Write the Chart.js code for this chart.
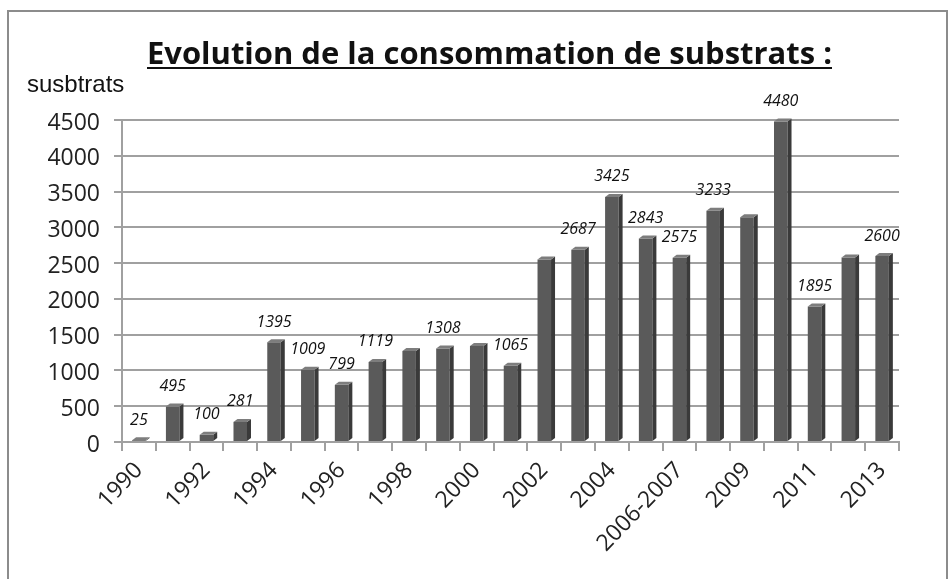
<!DOCTYPE html>
<html>
<head>
<meta charset="utf-8">
<script src="https://cdn.jsdelivr.net/npm/chart.js@4.4.0/dist/chart.umd.min.js"></script>
<style>
  body { margin: 0; background: #fff; }
  #wrap { position: relative; width: 951px; height: 579px; overflow: hidden; }
  #cadre { position: absolute; left: 7px; top: 10px; width: 937px; height: 620px; border: 2px solid #8c8c8c; }
  #titre {
    position: absolute; left: 147px; top: 32px; line-height: 40px; white-space: nowrap;
    font: bold 30px 'Open Sans', sans-serif; color: #111;
    text-decoration: underline; text-decoration-thickness: 2px; text-underline-offset: 3px;
    transform-origin: left center;
  }
  #unite { position: absolute; left: 27px; top: 70px; line-height: 30px; font: 24px 'Liberation Sans', Arial, sans-serif; color: #111; }
  canvas { position: absolute; left: 0; top: 0; }
</style>
</head>
<body>
<div id="wrap">
  <div id="cadre"></div>
  <canvas id="grafikSubstrats" width="951" height="579"></canvas>
  <div id="titre">Evolution de la consommation de substrats :</div>
  <div id="unite">susbtrats</div>
</div>
<script>
// donnees
const annees = ['1990', '1991', '1992', '1993', '1994', '1995', '1996', '1997', '1998', '1999', '2000', '2001',
    '2002', '2003', '2004', '2005', '2006-2007', '2008', '2009', '2010', '2011', '2012', '2013'];
const substrats = [25, 495, 100, 281, 1395, 1009, 799, 1119, 1270, 1308, 1340, 1065,
    2550, 2687, 3425, 2843, 2575, 3233, 3140, 4480, 1895, 2580, 2600];
// barres qui portent une etiquette
const etiquetees = [1, 1, 1, 1, 1, 1, 1, 1, 0, 1, 0, 1, 0, 1, 1, 1, 1, 1, 0, 1, 1, 0, 1];
const yMin = 0, yMax = 4500, yPas = 500;

// titre: meme largeur que l'original
const titre = document.getElementById('titre');
titre.style.transform = 'scaleX(' + (685 / titre.getBoundingClientRect().width) + ')';

Chart.defaults.font.family = "'Open Sans', sans-serif";
Chart.defaults.color = '#222';

// faces laterale et superieure des barres (effet 3D)
const relief = {
    id: 'relief',
    afterDatasetsDraw(chart) {
        const ctx = chart.ctx;
        const d = 4, h = 3;
        chart.getDatasetMeta(0).data.forEach(bar => {
            const g = bar.x - bar.width / 2, dr = bar.x + bar.width / 2;
            ctx.save();
            ctx.fillStyle = '#3a3a3a';
            ctx.beginPath();
            ctx.moveTo(dr, bar.y);
            ctx.lineTo(dr + d, bar.y - h);
            ctx.lineTo(dr + d, bar.base - h);
            ctx.lineTo(dr, bar.base);
            ctx.closePath();
            ctx.fill();
            ctx.fillStyle = '#7d7d7d';
            ctx.beginPath();
            ctx.moveTo(g, bar.y);
            ctx.lineTo(g + d, bar.y - h);
            ctx.lineTo(dr + d, bar.y - h);
            ctx.lineTo(dr, bar.y);
            ctx.closePath();
            ctx.fill();
            ctx.restore();
        });
    }
};

// etiquettes de valeurs
const valeurs = {
    id: 'valeurs',
    afterDatasetsDraw(chart) {
        const ctx = chart.ctx;
        ctx.save();
        ctx.font = "italic 16px 'Open Sans', sans-serif";
        ctx.fillStyle = '#111';
        ctx.textAlign = 'center';
        ctx.textBaseline = 'middle';
        chart.getDatasetMeta(0).data.forEach((bar, i) => {
            if (etiquetees[i]) ctx.fillText(substrats[i], bar.x, bar.y - 20);
        });
        ctx.restore();
    }
};

const ctxSubstrats = document.getElementById('grafikSubstrats').getContext('2d');
const grafikSubstrats = new Chart(ctxSubstrats, {
    type: 'bar',
    data: {
        labels: annees,
        datasets: [{
            label: 'susbtrats',
            data: substrats,
            backgroundColor: '#5a5a5a',
            borderWidth: 0,
            barPercentage: 0.4,
            categoryPercentage: 1
        }]
    },
    options: {
        responsive: false,
        animation: false,
        layout: { padding: { top: 120, right: 52, left: 0, bottom: 0 } },
        plugins: {
            legend: { display: false },
            tooltip: { enabled: false }
        },
        scales: {
            x: {
                afterFit(scale) { scale.height = 137; },
                grid: { drawOnChartArea: false, color: '#a0a0a0', lineWidth: 2, tickLength: 9, offset: true },
                border: { color: '#a0a0a0', width: 2 },
                ticks: {
                    autoSkip: false,
                    minRotation: 46,
                    maxRotation: 46,
                    padding: 6,
                    font: { size: 23 },
                    color: '#222',
                    callback: (v, i) => (i % 2 === 0 ? annees[i] : '')
                }
            },
            y: {
                min: yMin,
                max: yMax,
                afterFit(scale) { scale.width = 122; },
                grid: { color: '#a0a0a0', lineWidth: 2, tickLength: 8 },
                border: { color: '#a0a0a0', width: 2 },
                ticks: {
                    stepSize: yPas,
                    padding: 14,
                    labelOffset: 3,
                    font: { size: 23 },
                    color: '#222',
                    callback: v => String(v)
                }
            }
        }
    },
    plugins: [relief, valeurs]
});
</script>
</body>
</html>
